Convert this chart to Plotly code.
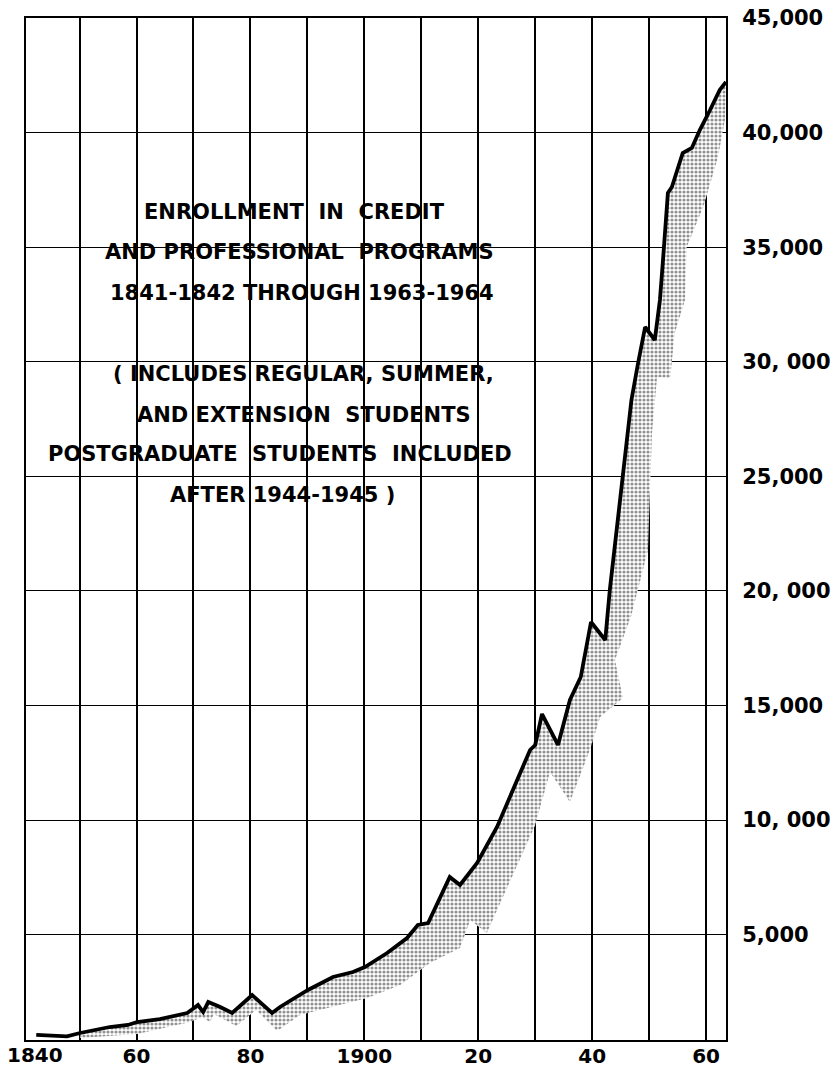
import plotly.graph_objects as go

# ---- data ----
line_years = [1842.4, 1845.0, 1847.8, 1850.1, 1855.3, 1858.5, 1860.1, 1864.1, 1868.9,
              1870.1, 1870.8, 1871.7, 1872.6, 1874.7, 1876.8, 1880.3, 1883.8, 1885.2,
              1890.1, 1894.5, 1898.0, 1900.1, 1904.0, 1907.5, 1909.4, 1911.2, 1912.8,
              1915.0, 1916.8, 1919.8, 1923.3, 1926.1, 1929.1, 1930.0, 1931.2, 1934.0,
              1936.1, 1938.0, 1939.8, 1942.3, 1943.1, 1945.2, 1946.9, 1948.0, 1949.3,
              1951.0, 1951.9, 1952.4, 1953.3, 1954.0, 1955.9, 1957.5, 1958.9, 1960.7,
              1962.4, 1963.5]
line_values = [620, 600, 560, 705, 967, 1055, 1185, 1316, 1578,
               1796, 1927, 1622, 2058, 1840, 1578, 2364, 1578, 1840,
               2582, 3149, 3368, 3586, 4197, 4851, 5419, 5506, 6379,
               7513, 7164, 8124, 9695, 11310, 13056, 13274, 14626, 13274,
               15238, 16241, 18641, 17856, 20038, 24620, 28330, 29857, 31515,
               30948, 32694, 34308, 37363, 37625, 39109, 39327, 40112, 40985,
               41858, 42207]

shade_years = [1850.1, 1860.1, 1869.4, 1871.5, 1872.9, 1873.6, 1877.5, 1881.0, 1884.7,
               1888.7, 1894.5, 1900.5, 1906.3, 1911.5, 1916.8, 1918.6, 1921.5, 1925.1,
               1928.6, 1930.0, 1932.6, 1936.1, 1939.6, 1941.4, 1945.4, 1944.0, 1946.8,
               1949.8, 1950.2, 1950.5, 1951.4, 1953.7, 1954.5, 1956.3, 1956.6, 1959.5,
               1962.1, 1963.3, 1963.5]
shade_values = [487, 662, 1185, 1404, 1185, 1535, 1011, 1709, 793,
                1491, 1840, 2233, 2800, 3760, 4415, 5637, 5069, 7077,
                8997, 9783, 12096, 10786, 13056, 14496, 15325, 16983, 18860,
                21784, 24707, 26889, 29333, 29289, 31253, 32694, 35007, 36752,
                38934, 40549, 41727]

x_tick_years = [1850, 1860, 1870, 1880, 1890, 1900, 1910, 1920, 1930, 1940, 1950, 1960]
x_tick_text = ["", "60", "", "80", "", "1900", "", "20", "", "40", "", "60"]
first_label = "1840"

y_tick_vals = [5000, 10000, 15000, 20000, 25000, 30000, 35000, 40000, 45000]
y_tick_text = ["5,000", "10, 000", "15,000", "20, 000", "25,000", "30, 000",
               "35,000", "40,000", "45,000"]

title_lines = [
    "ENROLLMENT  IN  CREDIT",
    "AND PROFESSIONAL  PROGRAMS",
    "1841-1842 THROUGH 1963-1964",
    "( INCLUDES REGULAR, SUMMER,",
    "AND EXTENSION  STUDENTS",
    "POSTGRADUATE  STUDENTS  INCLUDED",
    "AFTER 1944-1945 )",
]
title_pos = [(0.383, 0.810), (0.391, 0.771), (0.394, 0.731), (0.397, 0.652),
             (0.397, 0.612), (0.363, 0.573), (0.367, 0.533)]

FONT = "DejaVu Sans"

fig = go.Figure()

# stippled band under the line
poly_x = line_years[3:] + shade_years[::-1]
poly_y = line_values[3:] + shade_values[::-1]
fig.add_trace(go.Scatter(
    x=poly_x, y=poly_y, mode="lines", fill="toself",
    line=dict(width=0, color="rgba(0,0,0,0)"),
    fillcolor="white",
    fillpattern=dict(shape=".", fgcolor="#262626", bgcolor="white", size=4, solidity=0.5),
    hoverinfo="skip", showlegend=False))

fig.add_trace(go.Scatter(
    x=line_years, y=line_values, mode="lines",
    line=dict(color="black", width=3.8), showlegend=False))

annotations = []
for txt, (px, py) in zip(title_lines, title_pos):
    annotations.append(dict(
        text=txt, x=px, y=py, xref="paper", yref="paper", showarrow=False,
        xanchor="center", yanchor="middle",
        font=dict(family=FONT, size=21, color="black", weight="bold")))

annotations.append(dict(
    text=first_label, x=0, y=0, xref="paper", yref="paper", showarrow=False,
    xanchor="left", yanchor="top", xshift=-21, yshift=-1,
    font=dict(family=FONT, size=20, color="black", weight="bold")))

fig.update_layout(
    width=838, height=1075,
    margin=dict(l=26, r=112, t=18, b=35, autoexpand=False),
    paper_bgcolor="white", plot_bgcolor="white",
    annotations=annotations,
    xaxis=dict(
        range=[1840.6, 1963.5], tickvals=x_tick_years, ticktext=x_tick_text,
        showgrid=True, gridcolor="black", gridwidth=1.6, automargin=False,
        showline=True, linecolor="black", linewidth=2, mirror=True,
        ticks="", zeroline=False, ticklabelstandoff=-3, ticklabeloverflow="allow",
        tickfont=dict(family=FONT, size=20, color="black", weight="bold")),
    yaxis=dict(
        range=[400, 45000], side="right", tickvals=y_tick_vals, ticktext=y_tick_text,
        showgrid=True, gridcolor="black", gridwidth=1.2, automargin=False,
        showline=True, linecolor="black", linewidth=2, mirror=True,
        ticks="", zeroline=False, ticklabelstandoff=10, ticklabeloverflow="allow",
        tickfont=dict(family=FONT, size=21, color="black", weight="bold")),
)

# remove the default 8px page margin so the 838x1075 figure fills the window exactly
fig.write_html("out.html", config={"displayModeBar": False},
               post_script="document.body.style.margin='0px';")
